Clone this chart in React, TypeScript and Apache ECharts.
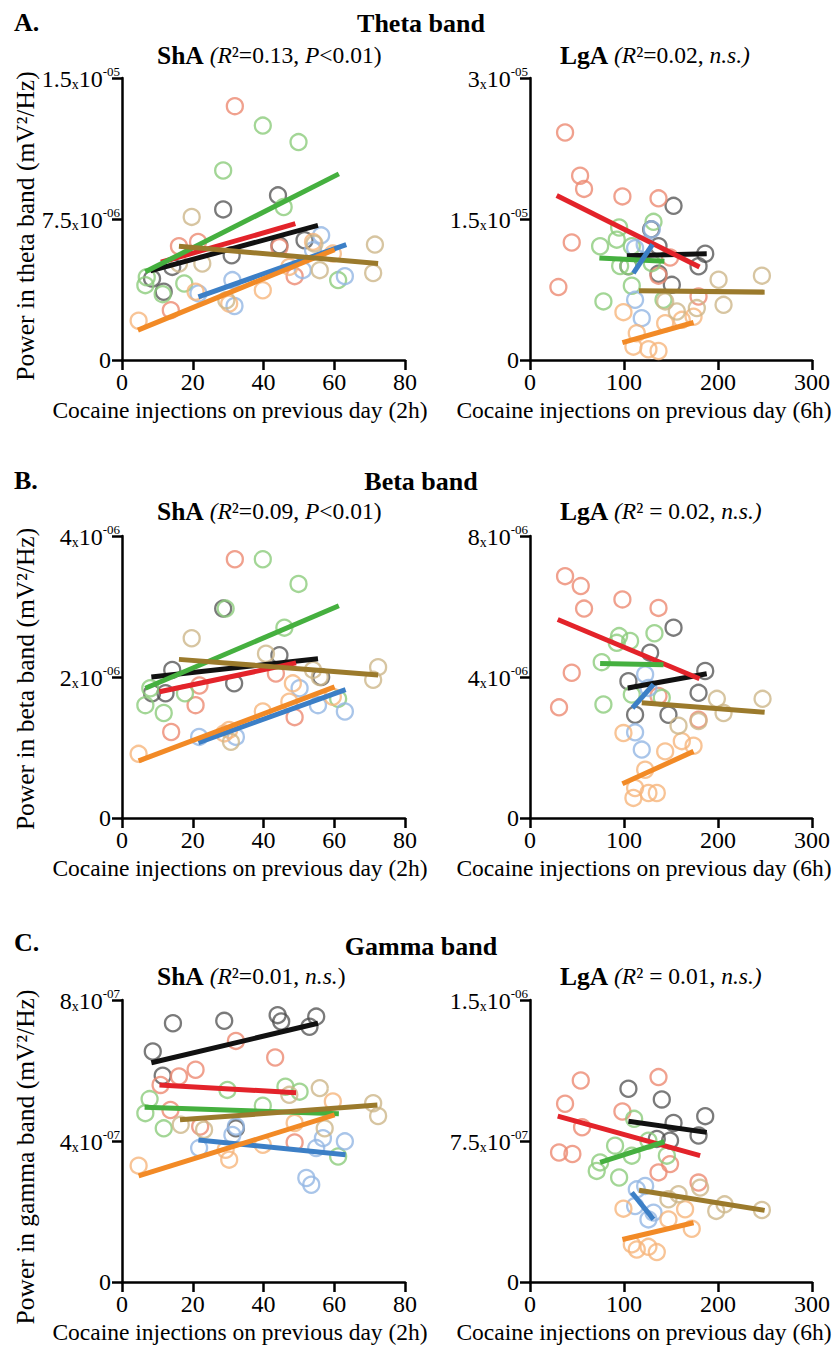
import React, { useEffect, useRef } from 'react';
import * as echarts from 'echarts';

const FONT = '"Liberation Serif", "Times New Roman", Times, serif';

const groupNames = ['Black', 'Red', 'Green', 'Blue', 'Orange', 'Brown'];
const circleColors = ['rgba(70,70,70,0.9)', '#ec8a72', '#8ccc7c', '#93b6e4', '#f6b57c', '#cdb68a'];
const lineColors = ['#111111', '#e3232a', '#45b03f', '#3c7fc6', '#f28a26', '#9b7a2c'];

// ---------- Theta band, ShA (y in 1e-6 mV²/Hz) ----------
const thetaShABlack = [[8.5, 4.33], [11.8, 3.63], [14.2, 4.95], [28.6, 8.01], [31.0, 5.57], [44.1, 8.76], [44.5, 6.1], [51.6, 6.37]];
const thetaShARed = [[13.8, 2.65], [16.1, 6.05], [21.5, 6.28], [31.9, 13.5], [44.5, 6.0], [48.8, 4.46]];
const thetaShAGreen = [[6.6, 3.98], [7.0, 4.4], [11.5, 3.5], [17.6, 4.07], [28.6, 10.08], [39.8, 12.47], [45.7, 8.14], [49.9, 11.59], [61.1, 4.25]];
const thetaShABlue = [[21.6, 3.54], [31.2, 4.25], [31.8, 2.87], [51.1, 4.78], [54.0, 5.84], [56.3, 6.63], [63.0, 4.46]];
const thetaShAOrange = [[4.7, 2.09], [20.8, 3.63], [30.3, 3.0], [39.8, 3.71], [47.3, 4.95], [54.0, 6.28], [59.6, 5.66]];
const thetaShABrown = [[16.1, 5.13], [19.7, 7.61], [22.7, 5.13], [29.5, 3.18], [54.4, 6.19], [55.9, 4.78], [71.0, 4.63], [71.5, 6.14]];
const thetaShAFits = [[8.0, 4.74, 55.4, 7.16], [11, 5.2, 49, 7.25], [6.6, 4.69, 61.3, 9.9], [21.6, 3.36, 63.4, 6.14], [4.5, 1.59, 60.1, 5.87], [16.1, 6.05, 72.4, 5.13]];

// ---------- Theta band, LgA (y in 1e-6) ----------
const thetaLgABlack = [[104.7, 9.97], [128.9, 13.9], [136.7, 12.1], [136.7, 9.18], [150.9, 8.0], [152.7, 16.4], [179.3, 9.97], [186.4, 11.3]];
const thetaLgARed = [[30.2, 7.76], [37.3, 24.2], [44.4, 12.5], [53.3, 19.6], [57.5, 18.2], [98.3, 17.4], [136.7, 17.2], [136.7, 8.97], [149, 10.9], [179.3, 6.76]];
const thetaLgAGreen = [[74.6, 12.1], [78.1, 6.23], [92.3, 12.8], [94.8, 14.1], [95.9, 10.0], [104.7, 10.0], [108.3, 12.1], [108.3, 7.9], [129.6, 10.3], [131.4, 14.7], [142, 6.4]];
const thetaLgABlue = [[111.8, 11.9], [111.8, 6.4], [118.9, 4.45], [122, 12.3], [129.6, 13.9]];
const thetaLgAOrange = [[99.4, 5.09], [110, 1.42], [113.6, 2.85], [126, 1.14], [136.7, 0.96], [143.8, 3.91], [161.5, 4.27], [174, 4.6]];
const thetaLgABrown = [[143.8, 6.23], [156.2, 5.16], [177.5, 5.52], [200.6, 8.54], [205.9, 5.87], [246.7, 8.97]];
const thetaLgAFits = [[103, 11.1, 188, 11.3], [28.4, 17.5, 180.3, 9.9], [73.8, 10.86, 143, 10.5], [110, 9.25, 130.3, 12.3], [98.3, 1.85, 174, 3.99], [116, 7.37, 249.6, 7.22]];

// ---------- Beta band, ShA (y in 1e-6) ----------
const betaShABlack = [[8.5, 1.77], [12.3, 1.77], [14.2, 2.10], [28.6, 2.97], [31.7, 1.91], [44.5, 2.31], [56.3, 2.0]];
const betaShARed = [[13.9, 1.22], [20.8, 1.60], [21.9, 1.88], [31.9, 3.67], [43.5, 2.05], [48.8, 1.43]];
const betaShAGreen = [[6.6, 1.60], [8.0, 1.84], [11.8, 1.49], [17.8, 1.77], [29.3, 2.97], [39.8, 3.67], [45.9, 2.70], [49.9, 3.32], [61.1, 1.69]];
const betaShABlue = [[21.8, 1.15], [32.2, 1.15], [50.2, 1.84], [55.4, 1.60], [63.0, 1.51]];
const betaShAOrange = [[4.7, 0.91], [28.9, 1.20], [30.3, 1.25], [39.8, 1.51], [47.3, 1.65], [48.3, 1.91], [59.6, 1.72]];
const betaShABrown = [[19.7, 2.55], [30.8, 1.08], [40.7, 2.33], [54.0, 2.10], [55.9, 2.0], [71.0, 1.96], [72.4, 2.14]];
const betaShAFits = [[8.3, 2.0, 55.4, 2.26], [10.6, 1.79, 49.2, 2.20], [6.6, 1.84, 61.3, 3.01], [21.6, 1.07, 63.2, 1.82], [4.7, 0.81, 60.1, 1.86], [16.1, 2.25, 72.4, 2.03]];

// ---------- Beta band, LgA (y in 1e-6) ----------
const betaLgABlack = [[104.7, 3.88], [111.8, 2.93], [127.8, 4.69], [147.3, 2.93], [152.7, 5.40], [179.3, 3.55], [186.4, 4.17]];
const betaLgARed = [[30.9, 3.14], [37.3, 6.86], [44.4, 4.12], [54.0, 6.58], [57.5, 5.94], [98.3, 6.20], [136.7, 5.96], [136.7, 3.46], [179.3, 2.79]];
const betaLgAGreen = [[76.3, 4.42], [78.1, 3.22], [92.3, 4.97], [94.8, 5.16], [106.5, 5.02], [108.3, 3.50], [132.4, 5.24], [140.2, 3.41]];
const betaLgABlue = [[111.8, 2.43], [118.9, 1.94], [122.5, 4.07], [126, 3.69]];
const betaLgAOrange = [[99.4, 2.41], [110, 0.57], [111.8, 0.85], [122.5, 1.37], [126, 0.71], [134.9, 0.71], [143.8, 1.89], [161.5, 2.18], [174, 2.05]];
const betaLgABrown = [[158, 2.62], [179.3, 2.75], [198.8, 3.38], [205.9, 2.98], [247.4, 3.38]];
const betaLgAFits = [[104, 3.69, 188, 4.09], [29.5, 5.63, 180.3, 3.95], [74.6, 4.38, 142, 4.35], [109, 3.12, 131.4, 3.79], [98.3, 0.97, 174, 1.89], [118.9, 3.27, 249.6, 3.0]];

// ---------- Gamma band, ShA (y in 1e-7) ----------
const gammaShABlack = [[8.7, 6.54], [11.5, 5.85], [14.4, 7.34], [28.9, 7.41], [32.2, 4.36], [44.0, 7.57], [45.0, 7.39], [53.0, 7.24], [54.9, 7.53]];
const gammaShARed = [[10.9, 5.59], [13.7, 4.88], [16.1, 5.83], [20.8, 6.02], [22.1, 4.41], [32.2, 6.84], [43.3, 6.37], [48.8, 3.96]];
const gammaShAGreen = [[6.6, 4.79], [7.8, 5.19], [11.8, 4.36], [29.8, 5.45], [39.8, 5.0], [46.2, 5.54], [50.2, 5.40], [61.1, 3.56]];
const gammaShABlue = [[21.8, 3.80], [31.2, 4.17], [32.2, 4.41], [52.1, 2.95], [53.5, 2.76], [54.9, 3.80], [56.8, 4.08], [63.0, 3.99]];
const gammaShAOrange = [[4.7, 3.30], [29.3, 3.75], [30.3, 3.47], [39.8, 3.89], [48.8, 4.51], [59.6, 5.12]];
const gammaShABrown = [[16.6, 4.46], [23.2, 4.32], [47.3, 5.31], [55.9, 5.50], [57.3, 4.36], [71.0, 5.07], [72.4, 4.71]];
const gammaShAFits = [[8.3, 6.22, 55.4, 7.34], [10.6, 5.59, 49.2, 5.37], [6.4, 4.96, 61.3, 4.77], [21.6, 4.03, 63.2, 3.61], [4.7, 3.01, 60.1, 4.74], [16.4, 4.6, 72.2, 5.02]];

// ---------- Gamma band, LgA (y in 1e-7) ----------
const gammaLgABlack = [[104.7, 10.28], [134.9, 7.61], [140.2, 9.71], [149, 7.52], [152.7, 8.46], [179.3, 7.79], [186.4, 8.82]];
const gammaLgARed = [[30.9, 6.89], [37.3, 9.48], [45.1, 6.81], [54.0, 10.72], [55.4, 8.23], [98.3, 9.07], [136.7, 10.90], [136.7, 5.83], [149, 6.27], [179.3, 5.29]];
const gammaLgAGreen = [[71.0, 5.91], [74.6, 6.36], [90.5, 7.25], [94.8, 5.56], [108.3, 6.72], [110.8, 8.68], [126, 7.52], [145.6, 6.72]];
const gammaLgABlue = [[111.8, 4.04], [113.6, 4.93], [122.5, 5.11], [126, 3.33], [131.4, 3.69]];
const gammaLgAOrange = [[99.4, 3.90], [108.3, 2.0], [113.6, 1.73], [126, 1.87], [134.9, 1.59], [147.3, 3.33], [165, 3.87], [172.1, 2.83]];
const gammaLgABrown = [[147.3, 4.40], [158, 4.67], [181, 5.02], [198.1, 3.78], [207, 4.13], [246.7, 3.83]];
const gammaLgAFits = [[104.7, 8.55, 188, 7.96], [29.5, 8.82, 181, 6.72], [74.6, 6.36, 143, 7.46], [108.3, 4.76, 131.4, 3.33], [98.3, 2.26, 174, 3.15], [116, 4.88, 249.6, 3.81]];

// Axis ranges and tick labels
const shaXMax = 80;
const shaXInterval = 20;
const lgaXMax = 300;
const lgaXInterval = 100;
const thetaShAYTicks = [['0'], ['7.5', '06'], ['1.5', '05']];
const thetaLgAYTicks = [['0'], ['1.5', '05'], ['3', '05']];
const betaShAYTicks = [['0'], ['2', '06'], ['4', '06']];
const betaLgAYTicks = [['0'], ['4', '06'], ['8', '06']];
const gammaShAYTicks = [['0'], ['4', '07'], ['8', '07']];
const gammaLgAYTicks = [['0'], ['7.5', '07'], ['1.5', '06']];

const bandTitles = ['Theta band', 'Beta band', 'Gamma band'];
const rowLetters = ['A.', 'B.', 'C.'];
const yNames = ['Power in theta band (mV²/Hz)', 'Power in beta band (mV²/Hz)', 'Power in gamma band (mV²/Hz)'];
const xNames = ['Cocaine injections on previous day (2h)', 'Cocaine injections on previous day (6h)'];
const subtitles = [
  '{b|ShA} {i|(R}{n|²=0.13, }{i|P}{n|<0.01)}',
  '{b|LgA} {i|(R}{n|²=0.02, }{i|n.s.)}',
  '{b|ShA} {i|(R}{n|²=0.09, }{i|P}{n|<0.01)}',
  '{b|LgA} {i|(R}{n|² = 0.02, }{i|n.s.)}',
  '{b|ShA} {i|(R}{n|²=0.01, }{i|n.s.}{n|)}',
  '{b|LgA} {i|(R}{n|² = 0.01, }{i|n.s.)}',
];

const panels = [
  { name: 'Theta ShA', points: [thetaShABlack, thetaShARed, thetaShAGreen, thetaShABlue, thetaShAOrange, thetaShABrown], fits: thetaShAFits, unit: 1e-6, yMax: 1.5e-5, yTicks: thetaShAYTicks, xMax: shaXMax, xInt: shaXInterval },
  { name: 'Theta LgA', points: [thetaLgABlack, thetaLgARed, thetaLgAGreen, thetaLgABlue, thetaLgAOrange, thetaLgABrown], fits: thetaLgAFits, unit: 1e-6, yMax: 3e-5, yTicks: thetaLgAYTicks, xMax: lgaXMax, xInt: lgaXInterval },
  { name: 'Beta ShA', points: [betaShABlack, betaShARed, betaShAGreen, betaShABlue, betaShAOrange, betaShABrown], fits: betaShAFits, unit: 1e-6, yMax: 4e-6, yTicks: betaShAYTicks, xMax: shaXMax, xInt: shaXInterval },
  { name: 'Beta LgA', points: [betaLgABlack, betaLgARed, betaLgAGreen, betaLgABlue, betaLgAOrange, betaLgABrown], fits: betaLgAFits, unit: 1e-6, yMax: 8e-6, yTicks: betaLgAYTicks, xMax: lgaXMax, xInt: lgaXInterval },
  { name: 'Gamma ShA', points: [gammaShABlack, gammaShARed, gammaShAGreen, gammaShABlue, gammaShAOrange, gammaShABrown], fits: gammaShAFits, unit: 1e-7, yMax: 8e-7, yTicks: gammaShAYTicks, xMax: shaXMax, xInt: shaXInterval },
  { name: 'Gamma LgA', points: [gammaLgABlack, gammaLgARed, gammaLgAGreen, gammaLgABlue, gammaLgAOrange, gammaLgABrown], fits: gammaLgAFits, unit: 1e-7, yMax: 1.5e-6, yTicks: gammaLgAYTicks, xMax: lgaXMax, xInt: lgaXInterval },
];

// Layout (pixels)
const colLeft = [122, 530];
const colWidth = [283, 282];
const rowTop = [78, 536, 1000];
const plotH = 282;
const yNameY = [226, 679, 1157];
const yNameX = 25;
const xNameX = [240, 644];
const subX = [157, 560];
const subY = [55, 511, 976];
const titleY = [23, 481, 946];
const letterY = [22, 480, 942];

function buildOption() {
  const grid: any[] = [];
  const xAxis: any[] = [];
  const yAxis: any[] = [];
  const series: any[] = [];
  const graphic: any[] = [];

  const axisLine = { show: true, lineStyle: { color: '#000', width: 2.5 } };
  const axisTick = { show: true, inside: false, length: 10, lineStyle: { color: '#000', width: 2.5 } };

  panels.forEach((p, k) => {
    const row = Math.floor(k / 2);
    const col = k % 2;
    grid.push({ left: colLeft[col], top: rowTop[row], width: colWidth[col], height: plotH, containLabel: false });
    xAxis.push({
      type: 'value', gridIndex: k, min: 0, max: p.xMax, interval: p.xInt,
      axisLine, axisTick, splitLine: { show: false },
      axisLabel: { fontSize: 24, fontFamily: FONT, color: '#000', margin: 10, showMinLabel: true, showMaxLabel: true },
    });
    const interval = p.yMax / 2;
    yAxis.push({
      type: 'value', gridIndex: k, min: 0, max: p.yMax, interval,
      axisLine, axisTick, splitLine: { show: false },
      axisLabel: {
        margin: 2, showMinLabel: true, showMaxLabel: true, color: '#000',
        formatter: (v: number) => {
          const idx = Math.round(v / interval);
          const t = p.yTicks[idx];
          if (!t) return '';
          if (t.length === 1) return `{z|${t[0]}}`;
          return `{m|${t[0]}}{x|x}{m|10}{e|-${t[1]}}`;
        },
        rich: {
          m: { fontSize: 24, fontFamily: FONT, color: '#000', lineHeight: 26, verticalAlign: 'bottom' },
          x: { fontSize: 14, fontFamily: FONT, color: '#000', lineHeight: 19, verticalAlign: 'bottom' },
          e: { fontSize: 13, fontFamily: FONT, color: '#000', lineHeight: 12, verticalAlign: 'top' },
          z: { fontSize: 24, fontFamily: FONT, color: '#000', padding: [0, 9, 0, 0] },
        },
      },
    });
    p.points.forEach((pts, g) => {
      series.push({
        type: 'scatter', name: `${p.name} ${groupNames[g]}`, xAxisIndex: k, yAxisIndex: k,
        data: pts.map(([x, y]) => [x, y * p.unit]),
        symbol: 'circle', symbolSize: 16, z: 2,
        itemStyle: { color: 'rgba(0,0,0,0)', borderColor: circleColors[g], borderWidth: 2.3 },
      });
    });
    p.fits.forEach((f, g) => {
      series.push({
        type: 'line', name: `${p.name} ${groupNames[g]} fit`, xAxisIndex: k, yAxisIndex: k,
        data: [[f[0], f[1] * p.unit], [f[2], f[3] * p.unit]],
        symbol: 'none', z: 3, silent: true,
        lineStyle: { width: 5, color: lineColors[g] },
      });
    });
    graphic.push({
      type: 'text', x: subX[col], y: subY[row],
      style: {
        text: subtitles[k], fill: '#000', fontSize: 23.5, fontFamily: FONT,
        align: 'left', verticalAlign: 'middle', textAlign: 'left', textVerticalAlign: 'middle',
        rich: {
          b: { fontSize: 25.5, fontWeight: 'bold', fontFamily: FONT, fill: '#000' },
          i: { fontSize: 23.5, fontStyle: 'italic', fontFamily: FONT, fill: '#000' },
          n: { fontSize: 23.5, fontFamily: FONT, fill: '#000' },
        },
      },
    });
    graphic.push({
      type: 'text', x: xNameX[col], y: rowTop[row] + plotH + 50,
      style: { text: xNames[col], fill: '#000', fontSize: 23.5, fontFamily: FONT, align: 'center', verticalAlign: 'middle', textAlign: 'center', textVerticalAlign: 'middle' },
    });
  });

  for (let r = 0; r < 3; r++) {
    graphic.push({
      type: 'text', x: 14, y: letterY[r],
      style: { text: rowLetters[r], fill: '#000', fontSize: 26, fontWeight: 'bold', fontFamily: FONT, align: 'left', verticalAlign: 'middle', textAlign: 'left', textVerticalAlign: 'middle' },
    });
    graphic.push({
      type: 'text', x: 421, y: titleY[r],
      style: { text: bandTitles[r], fill: '#000', fontSize: 26, fontWeight: 'bold', fontFamily: FONT, align: 'center', verticalAlign: 'middle', textAlign: 'center', textVerticalAlign: 'middle' },
    });
    graphic.push({
      type: 'text', x: yNameX, y: yNameY[r], rotation: Math.PI / 2,
      style: { text: yNames[r], fill: '#000', fontSize: 25.5, fontFamily: FONT, align: 'center', verticalAlign: 'middle', textAlign: 'center', textVerticalAlign: 'middle' },
    });
  }

  return {
    animation: false,
    backgroundColor: '#fff',
    grid, xAxis, yAxis, series, graphic,
  };
}

export default function App() {
  const ref = useRef<HTMLDivElement>(null);
  useEffect(() => {
    const chart = echarts.init(ref.current!, null, { renderer: 'svg' });
    chart.setOption(buildOption() as any);
    return () => chart.dispose();
  }, []);
  return <div ref={ref} style={{ position: 'absolute', left: 0, top: 0, width: 835, height: 1347, background: '#fff' }} />;
}
